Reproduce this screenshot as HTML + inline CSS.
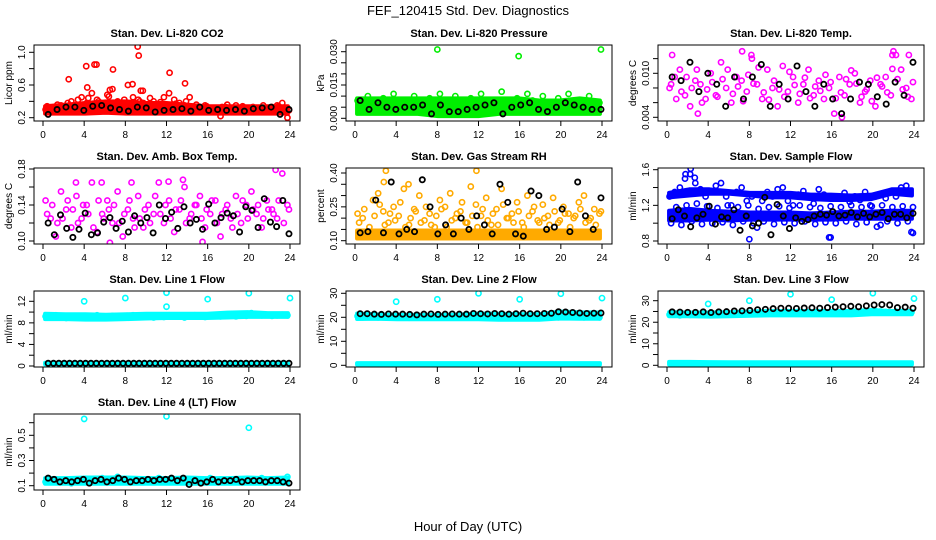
<!DOCTYPE html>
<html><head><meta charset="utf-8">
<style>
html,body{margin:0;padding:0;background:#fff;}
svg{display:block;font-family:"Liberation Sans",Arial,sans-serif;}
</style></head>
<body>
<svg id="chart" width="936" height="540" viewBox="0 0 936 540">
<text x="468" y="15" text-anchor="middle" font-size="13">FEF_120415  Std. Dev. Diagnostics</text>
<text x="468" y="531" text-anchor="middle" font-size="13">Hour of Day (UTC)</text>
</svg>
<script>
// ---------- data ----------
const xTicks = [0,4,8,12,16,20,24];
const titles = ["Stan. Dev. Li-820 CO2","Stan. Dev. Li-820 Pressure","Stan. Dev. Li-820 Temp.","Stan. Dev. Amb. Box Temp.","Stan. Dev. Gas Stream RH","Stan. Dev. Sample Flow","Stan. Dev. Line 1 Flow","Stan. Dev. Line 2 Flow","Stan. Dev. Line 3 Flow","Stan. Dev. Line 4 (LT) Flow"];
const yLabels = ["Licor ppm","kPa","degrees C","degrees C","percent","ml/min","ml/min","ml/min","ml/min","ml/min"];
const colors = ["#ff0000","#00ee00","#ff00ff","#ff00ff","#ffaa00","#0000ff","#00ffff","#00ffff","#00ffff","#00ffff"];
const yTicks0=[0.2,0.4,0.6,0.8,1.0], yTickLab0=["0.2","","0.6","","1.0"];
const yTicks1=[0,0.005,0.010,0.015,0.020,0.025,0.030], yTickLab1=["0.000","","","0.015","","","0.030"];
const yTicks2=[0.004,0.006,0.008,0.010,0.012], yTickLab2=["0.004","","","0.010",""];
const yTicks3=[0.10,0.12,0.14,0.16,0.18], yTickLab3=["0.10","","0.14","","0.18"];
const yTicks4=[0.10,0.15,0.20,0.25,0.30,0.35,0.40], yTickLab4=["0.10","","","0.25","","","0.40"];
const yTicks5=[0.8,1.0,1.2,1.4,1.6], yTickLab5=["0.8","","1.2","","1.6"];
const yTicks6=[0,2,4,6,8,10,12], yTickLab6=["0","","4","","8","","12"];
const yTicks7=[0,5,10,15,20,25,30], yTickLab7=["0","","10","","20","","30"];
const yTicks8=[0,5,10,15,20,25,30], yTickLab8=["0","","10","","20","","30"];
const yTicks9=[0.1,0.2,0.3,0.4,0.5,0.6], yTickLab9=["0.1","","0.3","","0.5",""];
const bandLo0=[0.25,0.25,0.25,0.26,0.25,0.25,0.25,0.25,0.25,0.25,0.25,0.25,0.25], bandHi0=[0.34,0.36,0.38,0.40,0.40,0.38,0.38,0.36,0.34,0.34,0.34,0.34,0.34];
const bandLo1=[0.002,0.002,0.002,0.002,0.001,0.001,0.001,0.002,0.002,0.002,0.002,0.002,0.002], bandHi1=[0.009,0.009,0.009,0.009,0.009,0.009,0.009,0.009,0.009,0.008,0.008,0.009,0.008];
const bandLo4=[0.11,0.11,0.11,0.11,0.11,0.11,0.11,0.11,0.11,0.11,0.11,0.11,0.11], bandHi4=[0.145,0.145,0.145,0.145,0.145,0.145,0.145,0.145,0.145,0.145,0.145,0.145,0.145];
const bandLo5=[1.03,1.03,1.04,1.03,1.04,1.04,1.04,1.04,1.04,1.05,1.05,1.05,1.05], bandHi5=[1.14,1.16,1.14,1.13,1.12,1.12,1.12,1.11,1.12,1.13,1.13,1.14,1.14];
const bandLo6=[8.7,8.7,8.6,8.6,8.7,8.8,8.9,8.9,8.9,9.0,9.1,9.1,9.1], bandHi6=[9.7,9.6,9.6,9.5,9.6,9.7,9.7,9.7,9.7,9.9,10.0,9.8,9.8];
const bandLo7=[19.3,19.4,19.2,19.2,19.2,19.2,19.2,19.0,19.0,19.0,19.5,19.4,19.4], bandHi7=[21.6,21.2,21.0,21.0,21.0,21.1,21.6,21.5,21.3,21.3,22.4,22.1,22.0];
const bandLo8=[22.8,22.8,22.6,22.8,23.0,23.2,23.2,23.2,23.2,23.2,23.7,23.7,23.7], bandHi8=[24.7,24.5,24.5,24.7,24.9,25.2,25.2,25.2,25.2,25.2,25.7,25.2,25.2];
const bandLo9=[0.115,0.115,0.115,0.115,0.115,0.115,0.115,0.115,0.115,0.115,0.115,0.115,0.115], bandHi9=[0.16,0.16,0.165,0.165,0.165,0.16,0.16,0.165,0.16,0.16,0.165,0.16,0.165];
const lowLo6=[0.3,0.3,0.3,0.3,0.3,0.3,0.3,0.3,0.3,0.3,0.3,0.3,0.3], lowHi6=[0.6,0.6,0.6,0.6,0.6,0.6,0.6,0.6,0.6,0.6,0.6,0.6,0.6];
const lowLo7=[0.3,0.3,0.3,0.3,0.3,0.3,0.3,0.3,0.3,0.3,0.3,0.3,0.3], lowHi7=[0.9,0.9,0.9,0.9,0.9,0.9,0.9,0.9,0.9,0.9,0.9,0.9,0.9];
const lowLo8=[0.4,0.4,0.4,0.4,0.4,0.4,0.4,0.4,0.4,0.4,0.4,0.4,0.4], lowHi8=[1.6,1.6,1.5,1.4,1.4,1.4,1.4,1.4,1.4,1.4,1.4,1.4,1.4];
const upLo5=[1.29,1.31,1.33,1.33,1.31,1.29,1.29,1.27,1.26,1.26,1.27,1.33,1.31], upHi5=[1.34,1.38,1.38,1.36,1.34,1.34,1.34,1.32,1.32,1.31,1.32,1.38,1.38];
const col0=[0.30,0.28,0.32,0.35,0.30,0.40,0.33,0.45,0.38,0.50,0.42,0.36,0.48,0.55,0.40,0.35,0.60,0.45,0.42,0.38,0.33,0.40,0.36,0.45,0.50,0.42,0.38,0.35,0.45,0.33,0.30,0.35,0.32,0.30,0.22,0.33,0.30,0.35,0.32,0.30,0.28,0.32,0.30,0.29,0.33,0.35,0.38,0.20];
const col1=[0.008,0.006,0.010,0.004,0.007,0.009,0.005,0.011,0.003,0.008,0.006,0.010,0.004,0.007,0.009,0.005,0.011,0.008,0.006,0.010,0.004,0.007,0.009,0.005,0.011,0.003,0.008,0.006,0.012,0.004,0.007,0.009,0.005,0.011,0.008,0.006,0.010,0.004,0.007,0.009,0.005,0.011,0.003,0.008,0.006,0.010,0.004,0.007];
const col2=[0.008,0.0095,0.0105,0.007,0.0055,0.009,0.0085,0.0065,0.010,0.007,0.0115,0.008,0.006,0.0095,0.009,0.0075,0.012,0.0085,0.0065,0.0105,0.008,0.0055,0.011,0.0075,0.0095,0.006,0.0085,0.0105,0.007,0.009,0.0065,0.008,0.0045,0.0095,0.007,0.0085,0.010,0.006,0.0075,0.009,0.0055,0.0085,0.0095,0.007,0.0125,0.0105,0.008,0.0065];
const col3=[0.145,0.125,0.105,0.155,0.135,0.115,0.150,0.125,0.140,0.165,0.110,0.130,0.145,0.120,0.155,0.105,0.135,0.125,0.150,0.115,0.140,0.130,0.165,0.120,0.145,0.110,0.135,0.160,0.125,0.140,0.150,0.115,0.130,0.145,0.105,0.135,0.125,0.150,0.120,0.140,0.155,0.130,0.115,0.145,0.135,0.125,0.175,0.140];
const col4=[0.22,0.20,0.14,0.28,0.31,0.23,0.18,0.25,0.21,0.33,0.17,0.24,0.30,0.19,0.22,0.16,0.28,0.25,0.31,0.20,0.23,0.18,0.34,0.26,0.21,0.29,0.17,0.24,0.33,0.20,0.22,0.27,0.18,0.30,0.23,0.19,0.26,0.21,0.29,0.18,0.25,0.22,0.20,0.27,0.30,0.19,0.24,0.22];
const col5=[1.30,1.35,1.40,1.50,1.55,1.45,1.38,1.30,1.35,1.42,1.45,1.30,1.20,1.35,1.40,1.25,1.30,0.95,1.25,1.35,1.30,1.38,1.40,1.25,1.20,1.32,1.36,1.30,1.22,1.38,1.32,0.84,1.30,1.28,1.34,1.24,1.30,1.26,1.35,1.20,1.30,0.98,1.28,1.36,1.30,1.40,1.42,0.90];
const col6=[9.2,9.0,9.4,9.1,8.9,9.3,9.2,9.0,9.3,9.1,9.4,9.0,9.2,9.3,9.1,9.0,9.2,9.4,9.1,9.2,9.3,9.0,9.2,9.1,9.4,9.3,9.2,9.0,9.3,9.4,9.2,9.1,9.3,9.4,9.2,9.3,9.4,9.2,9.5,9.3,9.8,9.6,9.4,9.5,9.3,9.4,9.5,9.4];
const col7=[20.5,20.0,20.3,20.1,20.0,20.2,20.1,19.9,20.0,20.2,19.8,20.0,20.1,19.9,20.0,20.2,20.5,20.3,20.0,20.1,19.9,20.0,20.2,20.0,20.4,20.1,20.0,19.8,20.0,20.1,19.9,20.0,20.2,20.0,20.1,19.9,20.0,20.2,20.1,20.0,21.0,20.8,20.5,20.2,20.0,20.3,20.1,20.0];
const col8=[23.5,23.8,23.2,23.6,23.4,23.7,23.5,23.8,23.6,24.0,23.8,24.1,23.9,24.2,24.0,24.3,24.1,24.5,24.3,24.6,24.2,24.5,24.4,24.7,24.5,24.8,24.4,24.6,24.5,24.7,24.4,24.6,24.8,24.5,24.7,24.6,24.8,24.5,24.9,24.7,25.2,25.0,24.8,24.6,24.9,24.7,24.8,24.6];
const col9=[0.13,0.14,0.15,0.13,0.14,0.12,0.15,0.14,0.13,0.15,0.14,0.16,0.13,0.15,0.17,0.14,0.13,0.15,0.14,0.13,0.15,0.14,0.16,0.13,0.15,0.14,0.13,0.15,0.14,0.13,0.15,0.14,0.16,0.13,0.15,0.14,0.13,0.15,0.14,0.13,0.15,0.14,0.16,0.13,0.15,0.14,0.13,0.17];
// extra scatter series for the sparse-cloud panels (offset by a quarter hour)
const colB0=[0.34,0.31,0.36,0.29,0.38,0.33,0.42,0.31,0.44,0.36,0.40,0.33,0.46,0.38,0.35,0.42,0.37,0.32,0.40,0.36,0.44,0.33,0.39,0.35,0.30,0.37,0.33,0.40,0.31,0.36,0.28,0.34,0.31,0.29,0.33,0.36,0.30,0.28,0.34,0.31,0.33,0.29,0.35,0.32,0.30,0.34,0.32,0.29];
const colB2=[0.0085,0.0065,0.0075,0.0095,0.008,0.0105,0.006,0.0078,0.0088,0.0068,0.0092,0.0105,0.0072,0.0082,0.0062,0.0098,0.0086,0.0108,0.0074,0.0064,0.009,0.0078,0.0068,0.0102,0.0084,0.0072,0.0094,0.0066,0.0082,0.0076,0.0098,0.0088,0.0066,0.0074,0.0092,0.0104,0.0086,0.0068,0.0078,0.0062,0.0094,0.0082,0.0074,0.0106,0.0092,0.0078,0.0068,0.0088];
const colB3=[0.130,0.140,0.120,0.125,0.145,0.135,0.120,0.140,0.130,0.115,0.145,0.125,0.135,0.140,0.120,0.130,0.145,0.115,0.125,0.135,0.120,0.150,0.130,0.140,0.125,0.135,0.145,0.120,0.130,0.140,0.125,0.135,0.145,0.120,0.130,0.140,0.115,0.130,0.145,0.125,0.135,0.140,0.125,0.135,0.130,0.145,0.120,0.135];
const colB4=[0.18,0.24,0.16,0.21,0.26,0.17,0.22,0.19,0.27,0.16,0.20,0.23,0.18,0.25,0.17,0.21,0.24,0.16,0.19,0.22,0.27,0.18,0.21,0.16,0.24,0.19,0.22,0.17,0.26,0.20,0.18,0.23,0.16,0.21,0.25,0.18,0.20,0.17,0.23,0.19,0.22,0.16,0.21,0.24,0.18,0.20,0.17,0.23];
const colB5=[1.00,1.18,0.98,1.20,1.02,1.22,0.99,1.19,1.00,1.17,1.01,1.20,0.98,1.18,1.02,1.20,1.00,1.16,1.02,1.18,0.99,1.19,1.01,1.17,1.00,1.20,1.02,1.18,0.99,1.17,1.01,1.19,1.00,1.18,1.02,1.20,0.99,1.18,1.01,1.19,0.96,1.20,1.02,1.18,1.00,1.19,1.02,1.18];
const outX0=[2.5,4.2,4.3,5.0,5.2,6.8,8.7,9.2,9.3,9.5,9.7,12.3,13.8,6.5], outY0=[0.67,0.83,0.57,0.85,0.85,0.79,0.61,1.07,0.96,0.53,0.53,0.75,0.62,0.54];
const outX1=[8.0,15.9,23.9], outY1=[0.031,0.028,0.031];
const outX2=[0.5,7.3,8.2,22.0,21.9,23.5,3.0,17.0], outY2=[0.0125,0.013,0.0125,0.013,0.0125,0.0125,0.0045,0.004];
const outX3=[3.2,5.7,8.6,12.2,13.6,22.6,6.5,15.5], outY3=[0.165,0.165,0.165,0.166,0.168,0.179,0.098,0.099];
const outX4=[3.0,11.8,2.8,5.2], outY4=[0.41,0.41,0.36,0.35];
const outX5=[2.3,1.8,2.7,8.0,15.9,23.9], outY5=[1.61,1.55,1.51,0.82,0.84,0.89];
const outX6=[4.0,8.0,12.0,12.0,16.0,20.0,24.0], outY6=[12.0,12.6,13.6,11.0,12.4,13.5,12.6];
const outX7=[4.0,8.0,12.0,16.0,20.0,24.0], outY7=[26.5,27.5,30.0,27.5,29.8,28.0];
const outX8=[4.0,8.0,12.0,16.0,20.0,24.0], outY8=[28.5,30.0,33.0,30.5,33.5,31.0];
const outX9=[4.0,12.0,20.0], outY9=[0.63,0.65,0.56];
const blk0=[0.24,0.30,0.33,0.33,0.29,0.34,0.35,0.32,0.30,0.28,0.33,0.32,0.27,0.29,0.30,0.31,0.28,0.33,0.29,0.30,0.29,0.30,0.28,0.31,0.32,0.33,0.24,0.30];
const blk1=[0.008,0.004,0.007,0.005,0.004,0.005,0.005,0.006,0.002,0.006,0.003,0.003,0.004,0.005,0.006,0.007,0.002,0.005,0.006,0.007,0.004,0.003,0.005,0.007,0.006,0.005,0.004,0.004];
const blk2=[0.0095,0.009,0.0115,0.0075,0.010,0.0085,0.0055,0.0095,0.0065,0.0095,0.0112,0.0055,0.0085,0.0065,0.011,0.0075,0.0055,0.0085,0.0065,0.0045,0.0065,0.0088,0.0085,0.0068,0.0058,0.0088,0.007,0.0115];
const blk3=[0.120,0.107,0.129,0.114,0.104,0.113,0.131,0.107,0.109,0.121,0.126,0.114,0.122,0.110,0.128,0.120,0.126,0.109,0.140,0.125,0.132,0.114,0.138,0.120,0.124,0.113,0.141,0.120,0.126,0.131,0.128,0.110,0.138,0.134,0.115,0.147,0.121,0.116,0.145,0.108];
const blk4=[0.135,0.14,0.28,0.135,0.36,0.13,0.15,0.14,0.37,0.25,0.13,0.17,0.13,0.20,0.15,0.21,0.17,0.13,0.35,0.27,0.13,0.12,0.32,0.30,0.15,0.16,0.24,0.14,0.36,0.21,0.15,0.29];
const blk5=[1.05,1.15,1.08,0.96,1.06,1.10,1.19,0.99,1.07,1.06,1.15,0.92,1.08,0.97,1.00,1.29,0.87,1.21,1.08,0.94,1.06,1.02,1.04,1.08,1.10,1.09,1.13,1.08,1.09,1.12,1.07,1.11,1.07,1.10,1.12,1.05,1.10,1.10,1.06,1.11];
const blk6=[0.5,0.5,0.5,0.5,0.5,0.5,0.5,0.5,0.5,0.5,0.5,0.5,0.5,0.5,0.5,0.5,0.5,0.5,0.5,0.5,0.5,0.5,0.5,0.5,0.5,0.5,0.5,0.5,0.5,0.5,0.5,0.5,0.5,0.5,0.5,0.5,0.5,0.5,0.5,0.5,0.5,0.5,0.5,0.5,0.5,0.5];
const blk7=[21.5,21.5,21.3,21.2,21.4,21.3,21.3,21.2,21.0,21.3,21.4,21.2,21.3,21.4,21.3,21.3,21.6,21.5,21.4,21.6,21.5,21.3,21.5,21.7,21.5,21.5,21.6,21.7,22.3,22.2,22.0,21.8,21.6,21.7,21.8];
const blk8=[24.8,24.7,24.6,24.6,24.8,24.5,24.8,24.9,25.2,25.3,25.5,25.8,26.0,26.3,26.5,26.5,26.4,26.6,26.7,26.5,26.8,27.0,27.2,27.4,27.2,27.6,28.0,28.2,28.0,26.8,27.0,26.5];
const blk9=[0.16,0.15,0.13,0.14,0.13,0.14,0.15,0.12,0.14,0.15,0.13,0.14,0.16,0.15,0.13,0.14,0.14,0.15,0.14,0.15,0.15,0.16,0.14,0.16,0.11,0.14,0.12,0.13,0.15,0.13,0.14,0.14,0.15,0.13,0.14,0.14,0.14,0.13,0.14,0.14,0.13,0.12];

// ---------- layout ----------
const yRef=[[0.2,72.7,1.0,7.3],[0,73.3,0.030,6.7],[0.004,72.3,0.010,28.3],[0.10,73,0.18,1],[0.10,72.7,0.40,5],[0.8,73,1.6,1.7],[0,75,12,10.3],[0,74.3,30,2.3],[0,74.3,30,9.7],[0.1,71.7,0.5,21.3]];
const rowTop=[45,168,291,414], colLeft=[34,346,658], W=266, H=76;
const NS="http://www.w3.org/2000/svg";
const svg=document.getElementById('chart');
function mk(tag,attrs,parent){const e=document.createElementNS(NS,tag);for(const k in attrs)e.setAttribute(k,attrs[k]);(parent||svg).appendChild(e);return e;}

const Y={yTicks:[yTicks0,yTicks1,yTicks2,yTicks3,yTicks4,yTicks5,yTicks6,yTicks7,yTicks8,yTicks9],
 yLab:[yTickLab0,yTickLab1,yTickLab2,yTickLab3,yTickLab4,yTickLab5,yTickLab6,yTickLab7,yTickLab8,yTickLab9],
 col:[col0,col1,col2,col3,col4,col5,col6,col7,col8,col9],
 colB:[colB0,null,colB2,colB3,colB4,colB5,null,null,null,null],
 blk:[blk0,blk1,blk2,blk3,blk4,blk5,blk6,blk7,blk8,blk9],
 ox:[outX0,outX1,outX2,outX3,outX4,outX5,outX6,outX7,outX8,outX9],
 oy:[outY0,outY1,outY2,outY3,outY4,outY5,outY6,outY7,outY8,outY9],
 bands:[[[bandLo0,bandHi0]],[[bandLo1,bandHi1]],[],[],[[bandLo4,bandHi4]],[[bandLo5,bandHi5],[upLo5,upHi5]],[[bandLo6,bandHi6],[lowLo6,lowHi6]],[[bandLo7,bandHi7],[lowLo7,lowHi7]],[[bandLo8,bandHi8],[lowLo8,lowHi8]],[[bandLo9,bandHi9]]]};

for(let p=0;p<10;p++){
  const r=Math.floor(p/3), c=p%3, L=colLeft[c], T=rowTop[r];
  const g=mk('g',{});
  
  
  const xs=h=>L+9+h*(247/24);
  const [v0,o0,v1,o1]=yRef[p];
  const ys=v=>T+o0+(v-v0)*(o1-o0)/(v1-v0);
  const clipId='clip'+p;
  const cp=mk('clipPath',{id:clipId},g); mk('rect',{x:L,y:T,width:W,height:H},cp);
  const dg=mk('g',{'clip-path':'url(#'+clipId+')'},g);
  const color=colors[p];
  Y.bands[p].forEach((b,bi)=>{
    const lo=b[0],hi=b[1];let pts=[];
    for(let i=0;i<hi.length;i++)pts.push(xs(0.2+i*(23.6/(hi.length-1)))+','+ys(hi[i]));
    for(let i=lo.length-1;i>=0;i--)pts.push(xs(0.2+i*(23.6/(lo.length-1)))+','+ys(lo[i]));
    const pg=mk('polygon',{points:pts.join(' '),fill:color,stroke:color,'stroke-width':4,'stroke-linejoin':'round'},dg);
    
    
  });
  const drawSeries=(cs,off)=>{
    cs.forEach((v,i)=>{
      const e=mk('circle',{cx:xs(off+i*(23.5/(cs.length-1))),cy:ys(v),r:2.6,fill:'none',stroke:color,'stroke-width':1.6},dg);
      
      
    });
  };
  drawSeries(Y.col[p],0.25);
  if(Y.colB[p]) drawSeries(Y.colB[p],0.4);
  Y.ox[p].forEach((x,i)=>{
    const e=mk('circle',{cx:xs(x),cy:ys(Y.oy[p][i]),r:2.6,fill:'none',stroke:color,'stroke-width':1.6},dg);
    
    
  });
  const bs=Y.blk[p];
  bs.forEach((v,i)=>{
    const e=mk('circle',{cx:xs(0.5+i*(23.4/(bs.length-1))),cy:ys(v),r:2.6,fill:'none',stroke:'#000','stroke-width':1.8},dg);
    
    
  });
  const bx=mk('rect',{x:L,y:T,width:W,height:H,fill:'none',stroke:'#000','stroke-width':1},g);
  
  
  mk('line',{x1:xs(0),x2:xs(24),y1:T+H,y2:T+H,stroke:'#000'},g);
  xTicks.forEach(t=>{
    mk('line',{x1:xs(t),x2:xs(t),y1:T+H,y2:T+H+5,stroke:'#000'},g);
    const tx=mk('text',{x:xs(t),y:T+H+17,'text-anchor':'middle','font-size':10},g);
    tx.textContent=t;
    
    
  });
  const yt=Y.yTicks[p], yl=Y.yLab[p];
  mk('line',{x1:L,x2:L,y1:ys(yt[0]),y2:ys(yt[yt.length-1]),stroke:'#000'},g);
  yt.forEach((t,i)=>{
    const yy=ys(t);
    mk('line',{x1:L-5,x2:L,y1:yy,y2:yy,stroke:'#000'},g);
    if(yl[i]){
      const tx=mk('text',{x:L-9,y:yy,'text-anchor':'middle','font-size':10,transform:'rotate(-90 '+(L-9)+' '+yy+')'},g);
      tx.textContent=yl[i];
      
      
    }
  });
  const yla=mk('text',{x:L-22,y:T+H/2,'text-anchor':'middle','font-size':10,transform:'rotate(-90 '+(L-22)+' '+(T+H/2)+')'},g);
  yla.textContent=yLabels[p];
  
  
  const ti=mk('text',{x:L+W/2,y:T-8,'text-anchor':'middle','font-size':11,'font-weight':'bold'},g);
  ti.textContent=titles[p];
  
  
}
</script>
</body></html>
